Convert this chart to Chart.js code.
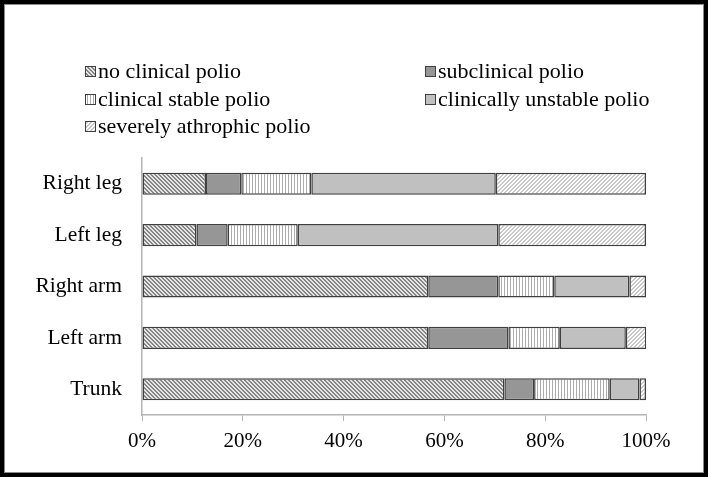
<!DOCTYPE html>
<html>
<head>
<meta charset="utf-8">
<script src="https://cdn.jsdelivr.net/npm/chart.js@4.4.1/dist/chart.umd.min.js"></script>
<style>
  html, body { margin: 0; padding: 0; background: #fff; }
  #wrap { position: relative; width: 708px; height: 477px; }
  #frame { position: absolute; left: 0; top: 0; width: 708px; height: 477px; box-sizing: border-box;
           border: 4px solid #000; box-shadow: inset 0 0 0 1px #8a8a8a; pointer-events: none; }
  canvas { position: absolute; left: 0; top: 0; }
</style>
</head>
<body>
<div id="wrap">
  <canvas id="barChart" width="708" height="477"></canvas>
  <div id="frame"></div>
</div>
<script>
// data (percent of each body region)
var regions = ["Right leg", "Left leg", "Right arm", "Left arm", "Trunk"];
var seriesNames = ["no clinical polio", "subclinical polio", "clinical stable polio",
                   "clinically unstable polio", "severely athrophic polio"];
var noClinical   = [12.7, 10.8, 56.8, 56.8, 71.9];
var subclinical  = [7.0, 6.2, 13.9, 15.9, 5.9];
var stable       = [13.9, 13.9, 11.1, 10.2, 15.0];
var unstable     = [36.6, 39.8, 14.9, 13.1, 5.9];
var severe       = [29.8, 29.3, 3.3, 4.1, 1.3];
var xTicks = [0, 20, 40, 60, 80, 100];

// little tiles for the hatch fills
function hatch(kind, fg, bg, n) {
  var c = document.createElement('canvas');
  c.width = n; c.height = n;
  var g = c.getContext('2d');
  g.fillStyle = bg; g.fillRect(0, 0, n, n);
  g.fillStyle = fg;
  for (var x = 0; x < n; x++) {
    for (var y = 0; y < n; y++) {
      var on = false;
      if (kind == 'back') on = ((x - y + n * 2) % n) < 2;
      if (kind == 'fwd') on = ((x + y) % n) < 2;
      if (kind == 'vert') on = (x % n) == 0;
      if (on) g.fillRect(x, y, 1, 1);
    }
  }
  return g.createPattern(c, 'repeat');
}

var ctx = document.getElementById("barChart").getContext('2d');
var fills = [
  hatch('back', '#858585', '#e6e6e6', 4),
  '#969696',
  hatch('vert', '#acacac', '#ffffff', 3),
  '#c0c0c0',
  hatch('fwd', '#c8c8c8', '#ffffff', 4)
];
var values = [noClinical, subclinical, stable, unstable, severe];

var serif = "'Liberation Serif', 'Times New Roman', serif";

// legend laid out in two columns like the original
var legendPlugin = {
  id: 'twoColLegend',
  afterDraw: function(chart) {
    var c = chart.ctx;
    var cols = [85, 425];
    var rows = [72, 100, 127];
    c.save();
    c.font = "22px " + serif;
    c.textBaseline = 'middle';
    chart.data.datasets.forEach(function(ds, i) {
      var x = cols[i % 2], y = rows[Math.floor(i / 2)];
      c.fillStyle = ds.backgroundColor;
      c.fillRect(x, y - 6, 11, 11);
      c.strokeStyle = '#404040';
      c.lineWidth = 1;
      c.strokeRect(x + 0.5, y - 5.5, 10, 10);
      c.fillStyle = '#000';
      c.fillText(ds.label, x + 13, y);
    });
    c.restore();
  }
};

var chart = new Chart(ctx, {
  type: 'bar',
  data: {
    labels: regions,
    datasets: seriesNames.map(function(name, i) {
      return {
        label: name,
        data: values[i],
        backgroundColor: fills[i],
        borderColor: '#3f3f3f',
        borderWidth: 1.5,
        borderSkipped: false,
        barPercentage: 0.43,
        categoryPercentage: 1
      };
    })
  },
  options: {
    indexAxis: 'y',
    responsive: false,
    animation: false,
    layout: { padding: { left: 0, top: 158, right: 62, bottom: 0 } },
    plugins: { legend: { display: false }, tooltip: { enabled: false } },
    scales: {
      x: {
        stacked: true,
        min: 0, max: 100,
        afterFit: function(s) { s.height = 62; },
        afterBuildTicks: function(s) { s.ticks = xTicks.map(function(v) { return { value: v }; }); },
        ticks: {
          color: '#000', padding: 8,
          font: { family: serif, size: 21 },
          callback: function(v) { return v + '%'; }
        },
        grid: { drawOnChartArea: false, drawTicks: true, tickLength: 6, color: '#b4b4b4' },
        border: { color: '#b4b4b4', width: 1.5 }
      },
      y: {
        stacked: true,
        afterFit: function(s) { s.width = 142; },
        ticks: { color: '#000', padding: 12, font: { family: serif, size: 21.5 } },
        grid: { display: false },
        border: { display: true, color: '#b4b4b4', width: 1.5 }
      }
    }
  },
  plugins: [legendPlugin]
});
</script>
</body>
</html>
